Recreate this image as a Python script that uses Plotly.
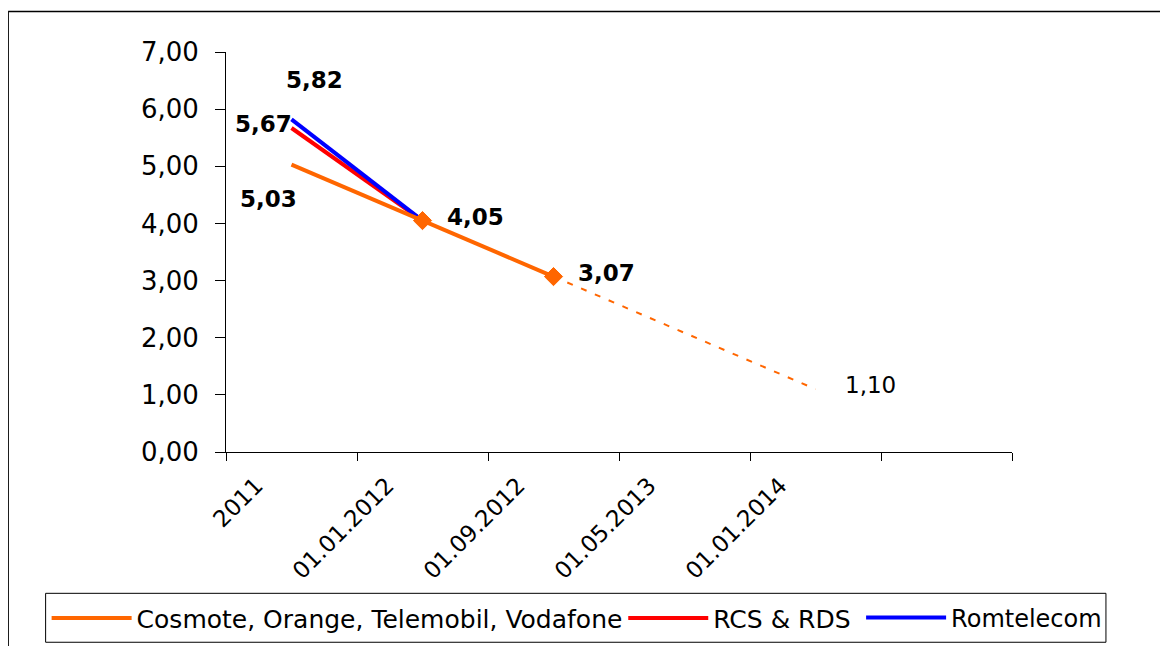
import plotly.graph_objects as go

categories = ["2011", "01.01.2012", "01.09.2012", "01.05.2013", "01.01.2014", ""]
cosmote = [5.03, 4.05, 3.07, None, None, None]
cosmote_forecast = [None, None, 3.07, None, 1.10, None]
rcs_rds = [5.67, 4.05, None, None, None, None]
romtelecom = [5.82, 4.05, None, None, None, None]
cosmote_marked = [1, 2]  # indices of points drawn with a diamond marker

names = ["Cosmote, Orange, Telemobil, Vodafone", "RCS & RDS", "Romtelecom"]
colors = ["#FF6600", "#FF0000", "#0000FF"]

xs = list(range(len(categories)))
FONT = "DejaVu Sans"

def fmt(v):
    return f"{v:.2f}".replace(".", ",")

fig = go.Figure()

fig.add_trace(go.Scatter(x=xs, y=rcs_rds, mode="lines", name=names[1],
                         line=dict(color=colors[1], width=4), legend="legend2"))
fig.add_trace(go.Scatter(x=xs, y=romtelecom, mode="lines", name=names[2],
                         line=dict(color=colors[2], width=4), legend="legend3"))
fig.add_trace(go.Scatter(x=xs, y=cosmote_forecast, mode="lines", connectgaps=True,
                         showlegend=False,
                         line=dict(color=colors[0], width=2, dash="6px,9px")))
fig.add_trace(go.Scatter(x=xs, y=cosmote, mode="lines", name=names[0],
                         line=dict(color=colors[0], width=4), legend="legend"))
fig.add_trace(go.Scatter(x=[xs[i] for i in cosmote_marked],
                         y=[cosmote[i] for i in cosmote_marked],
                         mode="markers", showlegend=False,
                         marker=dict(symbol="diamond", size=14, color=colors[0],
                                     line=dict(color=colors[0], width=1))))

# data labels: (series values, index, xshift, yshift, bold)
labels = [
    (romtelecom, 0, 23, 39, True),
    (rcs_rds, 0, -28, 4, True),
    (cosmote, 0, -23, -34, True),
    (cosmote, 1, 53, 4, True),
    (cosmote, 2, 53, 4, True),
    (cosmote_forecast, 4, 55, 4, False),
]
for series, i, dx, dy, bold in labels:
    fig.add_annotation(x=xs[i], y=series[i], xref="x", yref="y",
                       text=(f"<b>{fmt(series[i])}</b>" if bold else fmt(series[i])),
                       showarrow=False, xshift=dx, yshift=dy,
                       font=dict(family=FONT, size=23, color="black"))

OFF = 8  # page body margin
L, R, T, B = 225.5 - OFF, 1012 - OFF, 52 - OFF, 452.5 - OFF
W, H = 1168 - OFF, 646 - OFF
pw, ph = R - L, B - T

def px_x(p):
    return (p - OFF - L) / pw

def px_y(p):
    return (B - (p - OFF)) / ph

# outer chart border (top and left visible)
fig.add_shape(type="line", xref="paper", yref="paper",
              x0=px_x(7.5), x1=px_x(1180), y0=px_y(11.5), y1=px_y(11.5),
              line=dict(color="black", width=1.5))
fig.add_shape(type="line", xref="paper", yref="paper",
              x0=px_x(7.5), x1=px_x(7.5), y0=px_y(11.5), y1=px_y(660),
              line=dict(color="black", width=1.5))
# legend frame
fig.add_shape(type="rect", xref="paper", yref="paper",
              x0=px_x(45), x1=px_x(1106), y0=px_y(594), y1=px_y(643),
              line=dict(color="black", width=1), fillcolor="rgba(0,0,0,0)")

def leg(x, size):
    return dict(orientation="h", yanchor="top", xanchor="left", y=px_y(596), x=px_x(x),
                borderwidth=0, bgcolor="rgba(0,0,0,0)",
                font=dict(family=FONT, size=size, color="black"), itemwidth=80)

fig.update_layout(
    width=W, height=H,
    margin=dict(l=L, r=W - R, t=T, b=H - B, autoexpand=False),
    paper_bgcolor="white", plot_bgcolor="white",
    separators=", ",
    showlegend=True,
    legend=leg(46, 25),
    legend2=leg(623, 25),
    legend3=leg(861, 24),
    xaxis=dict(range=[-0.5, len(categories) - 0.5], showgrid=False, zeroline=False,
               showline=True, linecolor="black", linewidth=1,
               tickmode="array", tickvals=[x - 0.27 for x in xs], ticktext=categories,
               ticks="", tickangle=-45, ticklabelstandoff=10,
               tickfont=dict(family=FONT, size=23, color="black"),
               minor=dict(tickmode="linear", tick0=-0.5, dtick=1, ticks="outside",
                          ticklen=8, tickcolor="black", tickwidth=1, showgrid=False),
               automargin=False),
    yaxis=dict(range=[0, 7], dtick=1, tickformat=".2f", showgrid=False, zeroline=False,
               showline=True, linecolor="black", linewidth=1,
               ticks="outside", ticklen=10, tickcolor="black",
               tickfont=dict(family=FONT, size=26, color="black"),
               ticklabelstandoff=11,
               automargin=False),
)

fig.write_html("out.html")
